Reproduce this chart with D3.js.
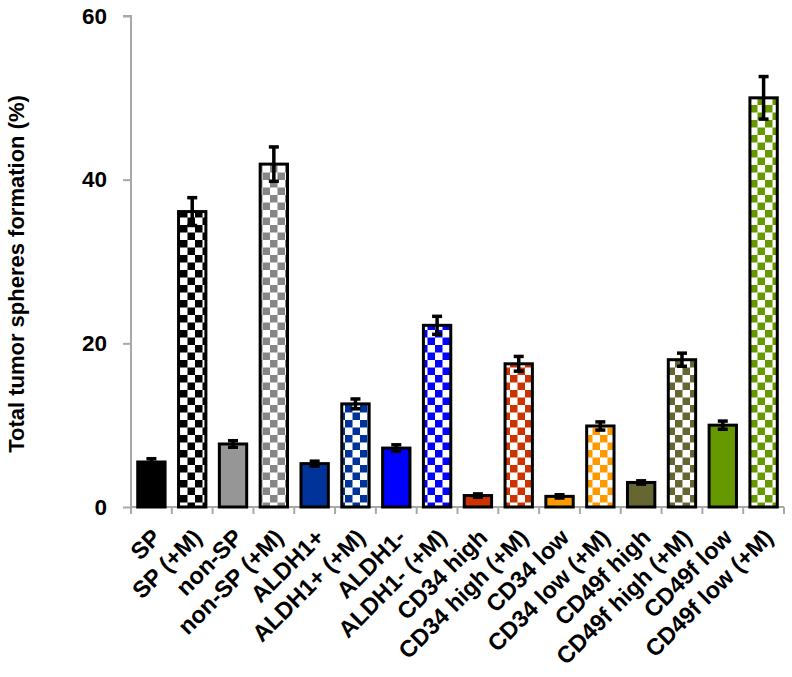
<!DOCTYPE html>
<html>
<head>
<meta charset="utf-8">
<script src="https://cdn.jsdelivr.net/npm/d3@7"></script>
<style>
  html, body { margin: 0; padding: 0; background: #ffffff; }
  svg { display: block; }
  text { font-family: "Liberation Sans", Arial, sans-serif; font-weight: bold; fill: #000; }
</style>
</head>
<body>
<svg id="chart" width="792" height="677"></svg>
<script>
const categories = ["SP", "SP (+M)", "non-SP", "non-SP (+M)", "ALDH1+", "ALDH1+ (+M)", "ALDH1-", "ALDH1- (+M)",
  "CD34 high", "CD34 high (+M)", "CD34 low", "CD34 low (+M)", "CD49f high", "CD49f high (+M)", "CD49f low", "CD49f low (+M)"];
const values = [5.5, 36.1, 7.7, 41.9, 5.3, 12.6, 7.2, 22.2, 1.4, 17.5, 1.3, 9.9, 3.0, 18.0, 10.0, 50.0];
const errors = [0.4, 1.7, 0.4, 2.1, 0.3, 0.6, 0.4, 1.1, 0.2, 0.9, 0.2, 0.5, 0.2, 0.8, 0.5, 2.6];
const colors = ["#000000", "#000000", "#969696", "#868686", "#003399", "#003399", "#0000ff", "#0000ff",
  "#cc3300", "#cc3300", "#ff9900", "#ff9900", "#666633", "#666633", "#669900", "#669900"];
const checkered = [false, true, false, true, false, true, false, true, false, true, false, true, false, true, false, true];
const yTicks = [0, 20, 40, 60];
const yTitle = "Total tumor spheres formation (%)";

const svg = d3.select("#chart");
const x = d3.scaleBand().domain(categories).range([131, 784]).paddingInner(0.33).paddingOuter(0.165);
const y = d3.scaleLinear().domain([0, 60]).range([507, 16]);
const cell = 7.5;

// patterns
const defs = svg.append("defs");
categories.forEach((c, i) => {
  if (!checkered[i]) return;
  const p = defs.append("pattern").attr("id", "pat" + i)
    .attr("patternUnits", "userSpaceOnUse").attr("width", cell * 2).attr("height", cell * 2);
  p.append("rect").attr("width", cell * 2).attr("height", cell * 2).attr("fill", "#fff");
  p.append("rect").attr("x", 0).attr("y", 0).attr("width", cell).attr("height", cell).attr("fill", colors[i]);
  p.append("rect").attr("x", cell).attr("y", cell).attr("width", cell).attr("height", cell).attr("fill", colors[i]);
});

// y axis
const yAxis = svg.append("g").attr("transform", "translate(131,0)")
  .call(d3.axisLeft(y).tickValues(yTicks).tickSize(8).tickPadding(16));
yAxis.select(".domain").attr("stroke", "#a8a8a8").attr("stroke-width", 2).attr("d", "M-8,16H0V507");
yAxis.selectAll(".tick line").attr("stroke", "#a8a8a8").attr("stroke-width", 2);
yAxis.selectAll(".tick text").style("font-size", "22.5px").style("font-weight", "bold")
  .style("font-family", "'Liberation Sans', Arial, sans-serif").attr("fill", "#000");

// x axis
const xAxis = svg.append("g").attr("transform", "translate(0,507)");
xAxis.append("line").attr("x1", 131).attr("x2", 784).attr("y1", 0).attr("y2", 0)
  .attr("stroke", "#a8a8a8").attr("stroke-width", 2);
const boundaries = categories.map(c => x(c) - x.step() * x.paddingInner() / 2).concat([784]);
xAxis.selectAll(".xt").data(boundaries).join("line")
  .attr("x1", d => d).attr("x2", d => d).attr("y1", 0).attr("y2", 7)
  .attr("stroke", "#a8a8a8").attr("stroke-width", 2);

// bars
svg.append("g").selectAll("rect").data(categories).join("rect")
  .attr("x", c => x(c))
  .attr("width", x.bandwidth())
  .attr("y", (c, i) => y(values[i]))
  .attr("height", (c, i) => y(0) - y(values[i]))
  .attr("fill", (c, i) => checkered[i] ? "url(#pat" + i + ")" : colors[i])
  .attr("stroke", "#000").attr("stroke-width", 3);

// error bars
const eg = svg.append("g").attr("stroke", "#000").attr("stroke-width", 3.5);
categories.forEach((c, i) => {
  const cx = x(c) + x.bandwidth() / 2;
  const top = y(values[i] + errors[i]), bot = y(values[i] - errors[i]);
  eg.append("line").attr("x1", cx).attr("x2", cx).attr("y1", top).attr("y2", bot);
  eg.append("line").attr("x1", cx - 5).attr("x2", cx + 5).attr("y1", top).attr("y2", top);
  eg.append("line").attr("x1", cx - 5).attr("x2", cx + 5).attr("y1", bot).attr("y2", bot);
});

// x labels
svg.append("g").selectAll("text").data(categories).join("text")
  .attr("transform", c => `translate(${x(c) + x.bandwidth() / 2 - 1},${527}) rotate(-45)`)
  .attr("text-anchor", "end")
  .attr("dy", "0.72em")
  .style("font-size", "23.5px")
  .text(c => c);

// y title
svg.append("text")
  .attr("transform", "translate(24,274) rotate(-90)")
  .attr("text-anchor", "middle")
  .style("font-size", "22px")
  .text(yTitle);
</script>
</body>
</html>
